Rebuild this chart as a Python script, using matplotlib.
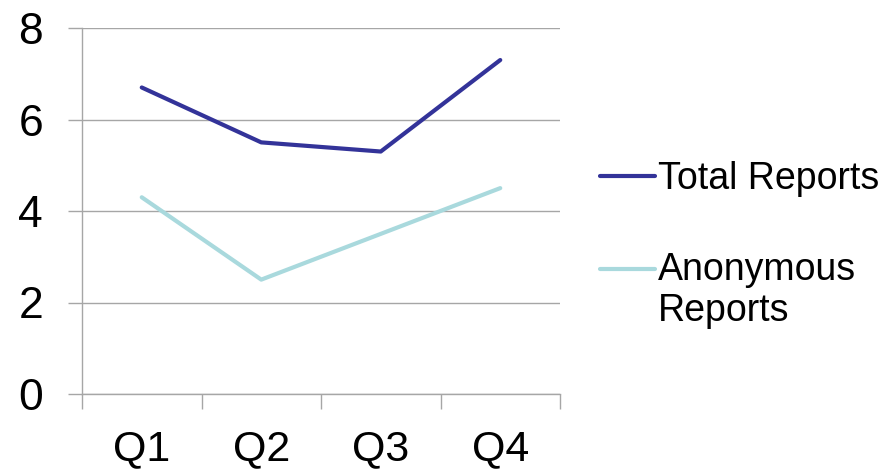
import matplotlib
matplotlib.use("Agg")
import matplotlib.pyplot as plt
import numpy as np

plt.rcParams['font.family'] = ['Liberation Sans', 'DejaVu Sans']

categories = ["Q1", "Q2", "Q3", "Q4"]
total_reports = [6.7, 5.5, 5.3, 7.3]
anonymous_reports = [4.3, 2.5, 3.5, 4.5]
series_labels = ["Total Reports", "Anonymous\nReports"]
yticks = [0, 2, 4, 6, 8]

fig = plt.figure(figsize=(8.85, 4.71), dpi=100)
ax = fig.add_axes([82/885, 1-394/471, 478/885, 366/471])

x = np.arange(len(categories))
grid_c = "#A6A6A6"
l1, = ax.plot(x, total_reports, color="#333399", lw=3.0, solid_capstyle="round")
l2, = ax.plot(x, anonymous_reports, color="#A9D9DD", lw=3.0, solid_capstyle="round")

ax.set_xlim(-0.5, len(categories) - 0.5)
ax.set_ylim(0, 8)
ax.set_yticks(yticks)
ax.set_yticklabels([str(t) for t in yticks])
ax.yaxis.grid(True, color=grid_c, lw=1.0)
ax.set_axisbelow(True)

ax.set_xticks(x)
ax.set_xticklabels(categories)
ax.set_xticks(np.arange(len(categories) + 1) - 0.5, minor=True)
ax.tick_params(axis='x', which='major', length=0, pad=25, labelsize=31)
ax.tick_params(axis='x', which='minor', length=11, width=1.0, color=grid_c, direction='out')
ax.tick_params(axis='y', length=10, width=1.0, color=grid_c, pad=18, labelsize=32)

for s in ['top', 'right']:
    ax.spines[s].set_visible(False)
for s in ['left', 'bottom']:
    ax.spines[s].set_color(grid_c)
    ax.spines[s].set_linewidth(1.0)

fs = 27
ls = 1.18
leg = fig.legend([l1, l2], series_labels, loc='center left',
                 bbox_to_anchor=(600/885, 1-245/471), frameon=False,
                 fontsize=fs, handlelength=1.47, handletextpad=0.08,
                 labelspacing=1.45, borderpad=0, borderaxespad=0)
texts = leg.get_texts()
texts[1].set_linespacing(ls)
# align the second handle with the first line of its two-line label
h2 = leg.legend_handles[1]
yd = np.asarray(h2.get_ydata(), dtype=float)
h2.set_ydata(yd + fs * ls / 2)

fig.savefig("out.png", dpi=100)
